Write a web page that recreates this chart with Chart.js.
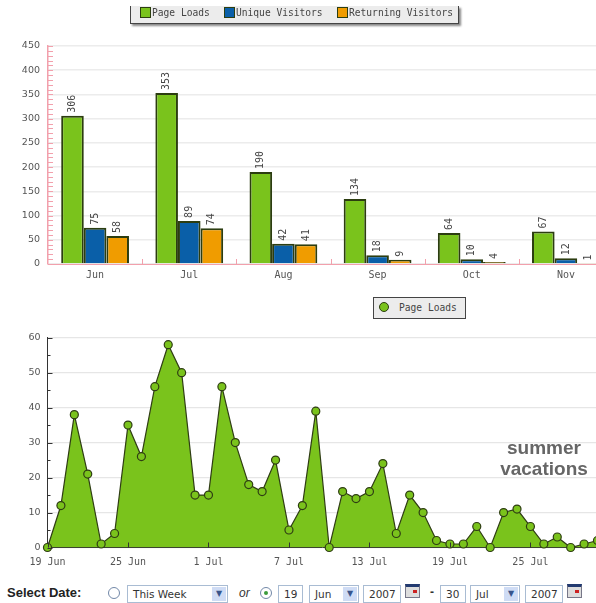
<!DOCTYPE html>
<html>
<head>
<meta charset="utf-8">
<script src="https://cdn.jsdelivr.net/npm/chart.js@4.4.0/dist/chart.umd.min.js"></script>
<style>
html, body { margin: 0; padding: 0; background: #fff; }
#page { position: relative; width: 596px; height: 603px; overflow: hidden; font-family: "DejaVu Sans Mono", monospace; }
#page canvas { filter: blur(0.35px); }
.wrap { position: absolute; left: 0; }
.legend { position: absolute; background: #ececec; border: 1px solid #444; color: #444; font-size: 9.6px; line-height: 12px; box-sizing: border-box; }
.swatch { position: absolute; width: 11px; height: 11px; box-sizing: border-box; border: 1.5px solid #2c3e10; }
.lab { position: absolute; white-space: pre; }
.box { position: absolute; top: 585px; height: 18px; border: 1px solid #a9bcd3; box-sizing: border-box; background: #fff; font: 10.5px "DejaVu Sans", sans-serif; color: #333; line-height: 17px; padding-left: 5px; }
.arrow { position: absolute; right: 1px; top: 1px; width: 14px; height: 14px; background: #cfdcf5; color: #38558c; font-size: 8px; line-height: 14px; text-align: center; }
.radio { position: absolute; width: 12px; height: 12px; border: 1.5px solid #7288a8; border-radius: 50%; background: #fff; box-sizing: border-box; top: 587px; }
.radio i { position: absolute; left: 2.5px; top: 2.5px; width: 4px; height: 4px; border-radius: 50%; background: #3c9c3c; }
.cal { position: absolute; top: 584px; width: 15px; height: 14px; background: #ddd; border: 1px solid #778; border-top: 3px solid #223a70; box-sizing: border-box; }
.cal i { position: absolute; right: 2px; top: 3px; width: 4px; height: 3px; background: #c22; }
</style>
</head>
<body>
<div id="page">
  <div class="wrap" style="top:30px;width:613px;height:260px"><canvas id="monthChart" width="613" height="260"></canvas></div>
  <div class="wrap" style="top:325px;width:610px;height:245px"><canvas id="dayChart" width="610" height="245"></canvas></div>

  <div class="legend" style="left:130px;top:6px;width:329px;height:18px;border-top:0;border-width:0 1.5px 1.5px 1.5px;box-shadow:2px 2px 2px #888">
    <span class="swatch" style="left:9px;top:1px;background:#7ac31c"></span><span class="lab" style="left:21px;top:1px">Page Loads</span>
    <span class="swatch" style="left:93px;top:1px;background:#0a5fa8"></span><span class="lab" style="left:105px;top:1px">Unique Visitors</span>
    <span class="swatch" style="left:206px;top:1px;background:#f09c00"></span><span class="lab" style="left:218px;top:1px">Returning Visitors</span>
  </div>
  <div class="legend" style="left:373px;top:297px;width:93px;height:22px">
    <span class="swatch" style="left:5px;top:4px;width:10px;height:10px;border-radius:50%;background:#7ac31c"></span><span class="lab" style="left:25px;top:4px">Page Loads</span>
  </div>

  <span class="lab" style="left:7px;top:585px;font:bold 13px 'Liberation Sans',sans-serif;color:#222">Select Date:</span>
  <span class="radio" style="left:108px"></span>
  <div class="box" style="left:127px;width:101px">This Week<span class="arrow">&#9660;</span></div>
  <span class="lab" style="left:239px;top:586px;font:italic 12px 'Liberation Sans',sans-serif;color:#333">or</span>
  <span class="radio" style="left:260px"><i></i></span>
  <div class="box" style="left:278px;width:25px">19</div>
  <div class="box" style="left:309px;width:50px">Jun<span class="arrow">&#9660;</span></div>
  <div class="box" style="left:363px;width:38px">2007</div>
  <span class="cal" style="left:405px"><i></i></span>
  <span class="lab" style="left:430px;top:585px;font:bold 12px 'Liberation Sans',sans-serif;color:#333">-</span>
  <div class="box" style="left:440px;width:26px">30</div>
  <div class="box" style="left:470px;width:50px">Jul<span class="arrow">&#9660;</span></div>
  <div class="box" style="left:525px;width:38px">2007</div>
  <span class="cal" style="left:567px"><i></i></span>
</div>

<script>
const months = ['Jun', 'Jul', 'Aug', 'Sep', 'Oct', 'Nov'];
const pageLoads = [306, 353, 190, 134, 64, 67];
const uniqueVisitors = [75, 89, 42, 18, 10, 12];
const returningVisitors = [58, 74, 41, 9, 4, 1];

const dayLabels = [
    '19 Jun', '20 Jun', '21 Jun', '22 Jun', '23 Jun', '24 Jun', '25 Jun', '26 Jun', '27 Jun', '28 Jun', '29 Jun', '30 Jun',
    '1 Jul', '2 Jul', '3 Jul', '4 Jul', '5 Jul', '6 Jul', '7 Jul', '8 Jul', '9 Jul', '10 Jul', '11 Jul', '12 Jul',
    '13 Jul', '14 Jul', '15 Jul', '16 Jul', '17 Jul', '18 Jul', '19 Jul', '20 Jul', '21 Jul', '22 Jul', '23 Jul', '24 Jul',
    '25 Jul', '26 Jul', '27 Jul', '28 Jul', '29 Jul', '30 Jul'
];
const dailyLoads = [
    0, 12, 38, 21, 1, 4, 35, 26, 46, 58, 50, 15,
    15, 46, 30, 18, 16, 25, 5, 12, 39, 0, 16, 14,
    16, 24, 4, 15, 10, 2, 1, 1, 6, 0, 10, 11,
    6, 1, 3, 0, 1, 2
];

const monoFont = '"DejaVu Sans Mono", monospace';
const labelColor = '#555';

// valores girados em cima de cada barra
const barValues = {
    id: 'barValues',
    afterDatasetsDraw(chart) {
        const ctx = chart.ctx;
        ctx.save();
        ctx.font = '10px ' + monoFont;
        ctx.fillStyle = '#444';
        ctx.textAlign = 'left';
        ctx.textBaseline = 'middle';
        chart.data.datasets.forEach((ds, d) => {
            chart.getDatasetMeta(d).data.forEach((bar, i) => {
                ctx.save();
                ctx.translate(bar.x, bar.y - 3);
                ctx.rotate(-Math.PI / 2);
                ctx.fillText(ds.data[i], 0, 0);
                ctx.restore();
            });
        });
        ctx.restore();
    }
};

// tracinhos rosa do eixo do gráfico de barras
const pinkTicks = {
    id: 'pinkTicks',
    afterDraw(chart) {
        const { ctx, scales: { x, y } } = chart;
        ctx.save();
        ctx.strokeStyle = '#f2a0ac';
        ctx.lineWidth = 1;
        ctx.beginPath();
        for (let v = 0; v <= 450; v += 10) {
            const py = Math.round(y.getPixelForValue(v)) + 0.5;
            ctx.moveTo(x.left, py);
            ctx.lineTo(x.left + 5, py);
        }
        const step = x.getPixelForValue(1) - x.getPixelForValue(0);
        months.forEach((m, i) => {
            const px = Math.round(x.getPixelForValue(i) + step / 2) + 0.5;
            ctx.moveTo(px, y.bottom);
            ctx.lineTo(px, y.bottom - 5);
        });
        ctx.stroke();
        ctx.restore();
    }
};

// marcas internas e texto do gráfico de área
const dayDecor = {
    id: 'dayDecor',
    afterDraw(chart) {
        const { ctx, scales: { x, y } } = chart;
        ctx.save();
        ctx.strokeStyle = '#333';
        ctx.lineWidth = 1;
        ctx.beginPath();
        for (let v = 0; v <= 60; v += 5) {
            const py = Math.round(y.getPixelForValue(v)) + 0.5;
            ctx.moveTo(x.left, py);
            ctx.lineTo(x.left + (v % 10 === 0 ? 5 : 3), py);
        }
        dayLabels.forEach((d, i) => {
            if (i % 6 === 0) {
                const px = Math.round(x.getPixelForValue(i)) + 0.5;
                ctx.moveTo(px, y.bottom);
                ctx.lineTo(px, y.bottom - 5);
            }
        });
        ctx.stroke();
        ctx.fillStyle = '#666';
        ctx.font = 'bold 19px "Liberation Sans", sans-serif';
        ctx.textAlign = 'center';
        ctx.textBaseline = 'middle';
        ctx.fillText('summer', 544, 124);
        ctx.fillText('vacations', 544, 145);
        ctx.restore();
    }
};

const barDataset = (label, data, color) => ({
    label,
    data,
    backgroundColor: color,
    borderColor: '#2c3d10',
    borderWidth: 2,
    categoryPercentage: 0.72,
    barPercentage: 1
});

new Chart(document.getElementById('monthChart'), {
    type: 'bar',
    data: {
        labels: months,
        datasets: [
            barDataset('Page Loads', pageLoads, '#7ac31c'),
            barDataset('Unique Visitors', uniqueVisitors, '#0a5fa8'),
            barDataset('Returning Visitors', returningVisitors, '#f09c00')
        ]
    },
    options: {
        responsive: false,
        animation: false,
        layout: { padding: { top: 16, right: 0, left: 0, bottom: 0 } },
        plugins: { legend: { display: false }, tooltip: { enabled: false } },
        scales: {
            x: {
                grid: { display: false, drawTicks: false },
                border: { color: '#f2a0ac', width: 1 },
                ticks: { color: labelColor, font: { family: monoFont, size: 10 }, padding: 5, maxRotation: 0 },
                afterFit: s => { s.height = 26; }
            },
            y: {
                min: 0,
                max: 450,
                grid: { color: '#ececec', lineWidth: 1.5, drawTicks: false },
                border: { color: '#f2a0ac', width: 1.5 },
                ticks: { stepSize: 50, color: labelColor, font: { family: '"DejaVu Sans", sans-serif', size: 9.5 }, padding: 8 },
                afterFit: s => { s.width = 48; }
            }
        }
    },
    plugins: [barValues, pinkTicks]
});

new Chart(document.getElementById('dayChart'), {
    type: 'line',
    data: {
        labels: dayLabels,
        datasets: [{
            label: 'Page Loads',
            data: dailyLoads,
            fill: true,
            tension: 0,
            backgroundColor: '#7ac31c',
            borderColor: '#2f3d14',
            borderWidth: 1.2,
            pointStyle: 'circle',
            pointRadius: 4,
            pointBackgroundColor: '#7ac31c',
            pointBorderColor: '#2f3d14',
            pointBorderWidth: 1.2,
            clip: false
        }]
    },
    options: {
        responsive: false,
        animation: false,
        layout: { padding: { top: 0, right: 12.5, left: 0, bottom: 0 } },
        plugins: { legend: { display: false }, tooltip: { enabled: false } },
        scales: {
            x: {
                offset: false,
                grid: { display: false, drawTicks: false },
                border: { color: '#333', width: 1 },
                ticks: {
                    color: labelColor,
                    font: { family: monoFont, size: 10 },
                    padding: 9,
                    autoSkip: false,
                    maxRotation: 0,
                    callback(v, i) { return i % 6 === 0 ? dayLabels[i] : ''; }
                },
                afterFit: s => { s.height = 22.5; }
            },
            y: {
                min: 0,
                max: 60,
                grid: { color: '#e6e6e6', lineWidth: 1.2, drawTicks: false },
                border: { color: '#333', width: 1 },
                ticks: { stepSize: 10, color: labelColor, font: { family: '"DejaVu Sans", sans-serif', size: 9.5 }, padding: 7 },
                afterFit: s => { s.width = 47.5; }
            }
        }
    },
    plugins: [dayDecor]
});
</script>
</body>
</html>
